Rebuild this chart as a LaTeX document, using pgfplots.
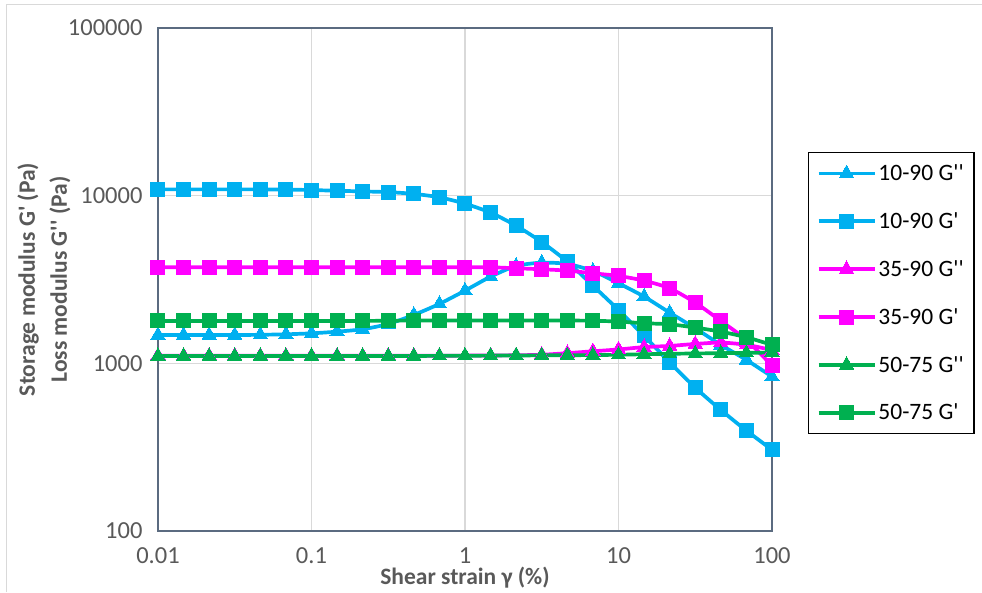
\documentclass[border=0pt]{standalone}
\usepackage{fontspec}
\setmainfont{Carlito}
\usepackage{pgfplots}
\pgfplotsset{compat=1.18}
\definecolor{cblue}{HTML}{00B0F0}
\definecolor{cmag}{HTML}{FF00FF}
\definecolor{cgreen}{HTML}{00B050}
\definecolor{tickgray}{HTML}{595959}
\definecolor{gridgray}{HTML}{D9D9D9}
\definecolor{framecol}{HTML}{5B6B80}
\newcommand{\q}{\textquotesingle}

% shear strain sweep: 6 points per decade, 0.01 .. 100 %
\pgfplotstableread{
x       Gpp1090 Gp1090 Gpp3590 Gp3590 Gpp5075 Gp5075
0.01    1475    10900  1110    3740   1105    1790
0.01468 1475    10900  1110    3740   1105    1790
0.02154 1475    10900  1110    3740   1105    1790
0.03162 1475    10900  1110    3740   1105    1790
0.04642 1480    10900  1110    3740   1105    1790
0.06813 1490    10880  1110    3740   1105    1790
0.1     1510    10800  1110    3740   1105    1790
0.1468  1545    10700  1110    3740   1105    1790
0.2154  1597    10600  1110    3740   1106    1790
0.3162  1717    10500  1110    3740   1106    1795
0.4642  1944    10250  1110    3740   1107    1800
0.6813  2262    9780   1110    3740   1108    1800
1       2714    8960   1112    3740   1110    1800
1.468   3289    7920   1114    3740   1112    1800
2.154   3810    6620   1117    3690   1114    1800
3.162   3986    5290   1125    3640   1116    1800
4.642   3917    4040   1150    3573   1118    1800
6.813   3556    2905   1180    3443   1120    1795
10      3003    2080   1210    3321   1125    1775
14.68   2500    1457   1250    3113   1133    1734
21.54   2006    1015   1270    2804   1140    1710
31.62   1619    716    1305    2302   1145    1634
46.42   1288    527    1330    1790   1150    1545
68.13   1048    397    1290    1380   1155    1431
100     833     305    1200    969    1160    1288
}\datatable

\begin{document}
\begin{tikzpicture}[x=1pt,y=1pt]
\useasboundingbox (0,0) rectangle (982,592);
\draw[gridgray,line width=1.3pt] (6.5,0) -- (6.5,587.5) -- (982,587.5);
\begin{axis}[
  at={(158pt,61pt)}, anchor=south west,
  scale only axis, width=614pt, height=503pt,
  xmode=log, ymode=log,
  xmin=0.01, xmax=100, ymin=100, ymax=100000,
  xtick={0.01,0.1,1,10,100}, xticklabels={0.01,0.1,1,10,100},
  ytick={100,1000,10000,100000}, yticklabels={100,1000,10000,100000},
  xminorticks=false, yminorticks=false,
  major tick length=0pt,
  grid=major, major grid style={gridgray,line width=1.3pt},
  axis line style={framecol,line width=1.6pt},
  tick label style={font=\fontsize{24.5}{28}\selectfont, text=tickgray},
  xticklabel style={yshift=-13pt},
  yticklabel style={xshift=-12pt},
  xlabel={Shear strain γ (\%)},
  xlabel style={at={(axis description cs:0.5,0)}, anchor=center, yshift=-47pt,
    font=\bfseries\fontsize{23.5}{27}\selectfont, text=tickgray},
  ylabel={Storage modulus G\q{} (Pa)\\Loss modulus G\q\q{} (Pa)},
  ylabel style={at={(axis description cs:0,0.5)}, anchor=center, yshift=114pt,
    align=center,
    font=\bfseries\fontsize{23.5}{32}\selectfont, text=tickgray},
  every axis plot/.append style={line width=3.7pt, smooth, tension=0.4},
  legend cell align=left,
  legend image code/.code={\draw[#1,mark repeat=2,mark phase=2] plot coordinates {(0pt,0pt) (28pt,0pt) (56pt,0pt)};},
  legend style={at={(rel axis cs:1.0586,0.7535)}, anchor=north west,
    draw=black, line width=1.5pt, fill=white,
    font=\fontsize{23.5}{27}\selectfont, text=black,
    inner xsep=8pt, inner ysep=10pt, row sep=26.5pt,
    nodes={inner sep=2pt}},
]
\addplot[cblue, mark=triangle*, mark size=8.2pt, mark options={solid,line width=0pt}] table[x=x,y=Gpp1090]{\datatable};
\addlegendentry{10-90 G\q\q}
\addplot[cblue, mark=square*, mark size=7pt, mark options={solid,line width=0pt}] table[x=x,y=Gp1090]{\datatable};
\addlegendentry{10-90 G\q}
\addplot[cmag, mark=triangle*, mark size=8.2pt, mark options={solid,line width=0pt}] table[x=x,y=Gpp3590]{\datatable};
\addlegendentry{35-90 G\q\q}
\addplot[cmag, mark=square*, mark size=7pt, mark options={solid,line width=0pt}] table[x=x,y=Gp3590]{\datatable};
\addlegendentry{35-90 G\q}
\addplot[cgreen, mark=triangle*, mark size=8.2pt, mark options={solid,line width=0pt}] table[x=x,y=Gpp5075]{\datatable};
\addlegendentry{50-75 G\q\q}
\addplot[cgreen, mark=square*, mark size=7pt, mark options={solid,line width=0pt}] table[x=x,y=Gp5075]{\datatable};
\addlegendentry{50-75 G\q}
\end{axis}
\end{tikzpicture}
\end{document}
